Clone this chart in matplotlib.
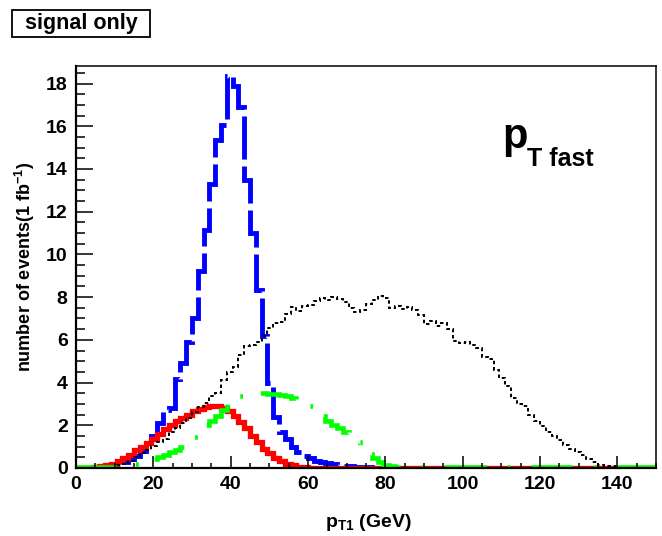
import numpy as np
import matplotlib
matplotlib.use("Agg")
import matplotlib.pyplot as plt
from matplotlib.patches import Rectangle

# 100 bins from 0 to 150 GeV
edges = np.linspace(0, 150, 101)

blue = [0, 0.01, 0.02, 0.03, 0.05, 0.08, 0.12, 0.18, 0.28, 0.4,
        0.55, 0.8, 1.1, 1.5, 2.1, 2.7, 2.8, 4.15, 4.9, 5.9,
        7.0, 9.2, 11.15, 13.3, 15.35, 16.05, 18.35, 17.9, 16.9, 13.5,
        11.0, 8.34, 6.2, 4.0, 2.4, 1.7, 1.35, 1.0, 0.75, 0.55,
        0.45, 0.35, 0.28, 0.22, 0.17, 0.13, 0.1, 0.08, 0.06, 0.04,
        0.03, 0.02, 0.01] + [0] * 47

red = [0, 0.01, 0.02, 0.04, 0.08, 0.12, 0.2, 0.32, 0.47, 0.62,
       0.83, 1.0, 1.17, 1.38, 1.6, 1.83, 2.03, 2.2, 2.36, 2.5,
       2.65, 2.76, 2.85, 2.9, 2.9, 2.8, 2.65, 2.45, 2.15, 1.85,
       1.5, 1.2, 0.9, 0.68, 0.48, 0.31, 0.2, 0.12, 0.07, 0.04,
       0.02, 0.01] + [0] * 58

green = [0.03, 0.03, 0.03, 0.03, 0.04, 0.05, 0.06, 0.08, 0.1, 0.15,
         0.2, 0.25, 0.32, 0.4, 0.5, 0.6, 0.75, 0.85, 1.0, 1.15,
         1.45, 1.75, 2.0, 2.2, 2.45, 2.7, 3.0, 3.2, 3.35, 3.45,
         3.5, 3.5, 3.5, 3.48, 3.45, 3.42, 3.38, 3.3, 3.2, 3.1,
         2.9, 2.7, 2.45, 2.2, 2.0, 1.85, 1.7, 1.55, 1.2, 0.85,
         0.65, 0.45, 0.3, 0.15, 0.08] + [0.04] * 45

black = [0, 0, 0, 0, 0.01, 0.02, 0.05, 0.12, 0.2, 0.35,
         0.5, 0.7, 0.85, 1.05, 1.2, 1.35, 1.7, 1.85, 2.1, 2.35,
         2.6, 2.85, 3.05, 3.35, 3.5, 4.1, 4.5, 4.75, 5.3, 5.7,
         5.75, 5.9, 6.2, 6.55, 6.8, 6.85, 7.2, 7.55, 7.35, 7.6,
         7.65, 7.8, 7.95, 7.85, 8.0, 7.9, 7.75, 7.5, 7.3, 7.4,
         7.7, 7.85, 8.05, 7.95, 7.5, 7.6, 7.45, 7.55, 7.4, 7.15,
         6.75, 6.9, 6.65, 6.8, 6.5, 5.95, 5.85, 5.9, 5.75, 5.6,
         5.2, 5.1, 4.6, 4.2, 3.85, 3.3, 3.0, 2.9, 2.5, 2.2,
         1.95, 1.7, 1.5, 1.3, 1.1, 0.9, 0.75, 0.6, 0.4, 0.3,
         0.15, 0.1, 0.08, 0.05, 0.05, 0.04, 0.05, 0.03, 0.04, 0.03]

plt.rcParams["font.family"] = ["Liberation Sans", "DejaVu Sans"]
plt.rcParams["font.weight"] = "bold"
plt.rcParams["axes.labelweight"] = "bold"
plt.rcParams["mathtext.fontset"] = "custom"
plt.rcParams["mathtext.rm"] = "Liberation Sans:bold"
plt.rcParams["mathtext.it"] = "Liberation Sans:bold"
plt.rcParams["mathtext.bf"] = "Liberation Sans:bold"
plt.rcParams["mathtext.sf"] = "Liberation Sans:bold"
plt.rcParams["mathtext.default"] = "rm"
plt.rcParams["lines.scale_dashes"] = False

fig = plt.figure(figsize=(6.62, 5.36), dpi=100)
ax = fig.add_axes([76 / 662, 68 / 536, 580 / 662, 402 / 536])

ax.stairs(blue, edges, color="#0000ff", lw=3.5, linestyle=(0, (31, 5)), baseline=None)
ax.stairs(red, edges, color="#ff0000", lw=3.8, baseline=None)
ax.stairs(black, edges, color="black", lw=1.4, linestyle=(0, (2.5, 2)), baseline=None)
ax.stairs(green, edges, color="#00ff00", lw=3.3, linestyle=(0, (30, 15, 2, 15)), baseline=None)

ax.set_xlim(0, 150)
ax.set_ylim(0, 18.82)
ax.set_xticks(np.arange(0, 141, 20))
ax.set_xticks(np.arange(0, 151, 5), minor=True)
ax.set_yticks(np.arange(0, 19, 2))
ax.set_yticks(np.arange(0, 18.8, 0.5), minor=True)
ax.tick_params(axis="both", which="both", direction="in", width=1.1,
               top=False, right=False, labelsize=14)
ax.tick_params(axis="x", which="major", length=8.5, pad=6)
ax.tick_params(axis="x", which="minor", length=3.6)
ax.tick_params(axis="y", which="major", length=12, pad=6)
ax.tick_params(axis="y", which="minor", length=6.5)
for s in ax.spines.values():
    s.set_linewidth(1.1)
ax.spines["bottom"].set_linewidth(1.6)
ax.spines["left"].set_linewidth(1.6)

ax.set_xlabel(r"p$_{\mathrm{T1}}$ (GeV)", fontsize=14)
ax.xaxis.set_label_coords(0.505, -0.11)
ax.set_ylabel(r"number of events(1 fb$^{-1}$)", fontsize=13)
ax.yaxis.set_label_coords(-0.068, 0.5)

# p_T fast label
fig.text(502 / 662, 1 - 148 / 536, "p", fontsize=30, ha="left", va="baseline")
fig.text(527 / 662, 1 - 166 / 536, "T fast", fontsize=18, ha="left", va="baseline")

# "signal only" box
fig.patches.append(Rectangle((12 / 662, 1 - 37 / 536), 138 / 662, 27 / 536,
                             transform=fig.transFigure, fill=False, lw=1.3,
                             edgecolor="black"))
fig.text(81 / 662, 1 - 24 / 536, "signal only", fontsize=15.5,
         ha="center", va="center")

fig.savefig("out.png", dpi=100)
